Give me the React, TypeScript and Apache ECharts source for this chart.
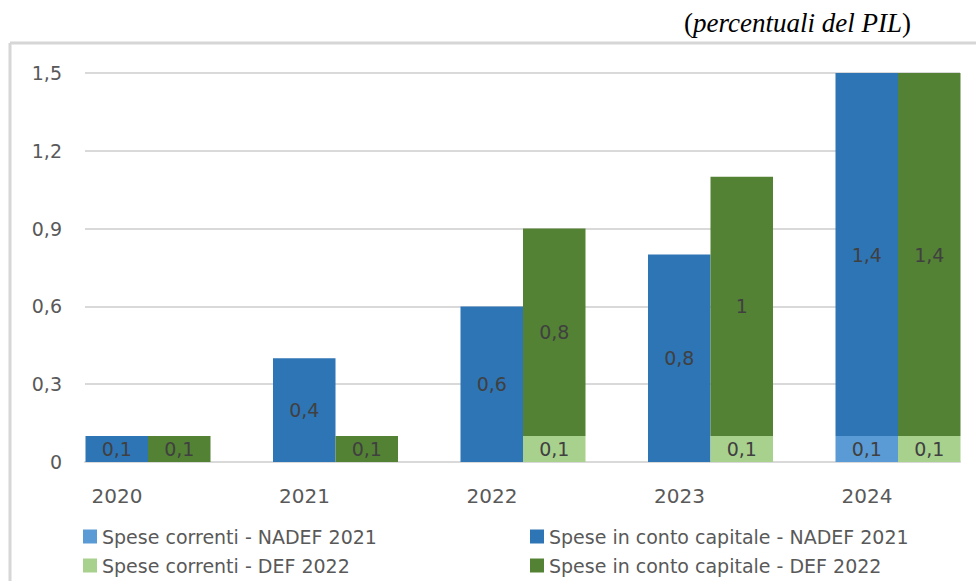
import React, { useEffect, useRef } from "react";
import * as echarts from "echarts";

const years = ["2020", "2021", "2022", "2023", "2024"];
const currentNadef = [null, null, null, null, 0.1];
const capitalNadef = [0.1, 0.4, 0.6, 0.8, 1.4];
const currentDef = [null, null, 0.1, 0.1, 0.1];
const capitalDef = [0.1, 0.1, 0.8, 1.0, 1.4];
const seriesNames = [
  "Spese correnti - NADEF 2021",
  "Spese in conto capitale - NADEF 2021",
  "Spese correnti - DEF 2022",
  "Spese in conto capitale - DEF 2022",
];
const colors = ["#5b9bd5", "#2e75b6", "#a9d18e", "#548235"];

const FONT = "'DejaVu Sans', sans-serif";
const TXT = "#595959";
// chart canvas is wider than the visible 976px window so the outer bar band can overhang
const EXTRA = 24;

export default function App() {
  const ref = useRef<HTMLDivElement>(null);
  useEffect(() => {
    if (!ref.current) return;
    const chart = echarts.init(ref.current, undefined, { renderer: "svg" });
    const fmt = (p: any) => String(p.value).replace(".", ",");
    const mk = (i: number, stack: string, data: any[]) => ({
      name: seriesNames[i],
      type: "bar",
      stack,
      xAxisIndex: 0,
      yAxisIndex: 0,
      data,
      barWidth: 62.5,
      barGap: "0%",
      itemStyle: { color: colors[i] },
      label: {
        show: true,
        position: "inside",
        formatter: fmt,
        color: "#404040",
        fontFamily: FONT,
        fontSize: 19,
      },
    });
    const legendBase = {
      orient: "vertical",
      top: 526,
      itemWidth: 14,
      itemHeight: 14,
      itemGap: 8,
      icon: "rect",
      padding: 0,
      textStyle: { color: TXT, fontSize: 19, fontFamily: FONT, lineHeight: 21 },
    };
    chart.setOption({
      animation: false,
      textStyle: { fontFamily: FONT },
      graphic: [
        {
          type: "text",
          right: 65 + EXTRA,
          top: 9,
          style: {
            text: "{n|(}{i|percentuali del PIL}{n|)}",
            rich: {
              n: { fontFamily: "'Liberation Serif', serif", fontSize: 27, fill: "#000" },
              i: { fontFamily: "'Liberation Serif', serif", fontSize: 27, fontStyle: "italic", fill: "#000" },
            },
          },
        },
        {
          type: "line",
          shape: { x1: 10, y1: 43, x2: 976 + EXTRA, y2: 43 },
          style: { stroke: "#d6d6d6", lineWidth: 3 },
        },
        {
          type: "line",
          shape: { x1: 10, y1: 43, x2: 10, y2: 581 },
          style: { stroke: "#d6d6d6", lineWidth: 3 },
        },
      ],
      legend: [
        { ...legendBase, left: 83, data: [seriesNames[0], seriesNames[2]] },
        { ...legendBase, left: 530, data: [seriesNames[1], seriesNames[3]] },
      ],
      grid: [
        { left: 54.25, width: 937.5, top: 73, bottom: 119, containLabel: false },
        { left: 85, right: 16 + EXTRA, top: 73, bottom: 119, containLabel: false },
      ],
      xAxis: [
        {
          type: "category",
          gridIndex: 0,
          data: years,
          axisLine: { show: false },
          axisTick: { show: false },
          axisLabel: {
            color: TXT,
            fontSize: 20,
            fontFamily: FONT,
            margin: 24,
            padding: [0, 62, 0, 0],
          },
        },
        {
          type: "category",
          gridIndex: 1,
          data: years,
          axisLine: { show: true, lineStyle: { color: "#d9d9d9", width: 2 } },
          axisTick: { show: false },
          axisLabel: { show: false },
        },
      ],
      yAxis: [
        {
          type: "value",
          gridIndex: 0,
          min: 0,
          max: 1.5,
          interval: 0.3,
          show: false,
          splitLine: { show: false },
        },
        {
          type: "value",
          gridIndex: 1,
          min: 0,
          max: 1.5,
          interval: 0.3,
          axisLine: { show: false },
          axisTick: { show: false },
          splitLine: { lineStyle: { color: "#d9d9d9", width: 2 } },
          axisLabel: {
            color: TXT,
            fontSize: 19,
            fontFamily: FONT,
            margin: 23,
            formatter: (v: number) => String(Math.round(v * 10) / 10).replace(".", ","),
          },
        },
      ],
      series: [
        mk(0, "nadef", currentNadef),
        mk(1, "nadef", capitalNadef),
        mk(2, "def", currentDef),
        mk(3, "def", capitalDef),
      ],
    });
    return () => chart.dispose();
  }, []);
  return (
    <div
      style={{
        position: "absolute",
        left: 0,
        top: 0,
        width: 976,
        height: 581,
        overflow: "hidden",
        background: "#fff",
      }}
    >
      <div ref={ref} style={{ width: 976 + EXTRA, height: 581 }} />
    </div>
  );
}
